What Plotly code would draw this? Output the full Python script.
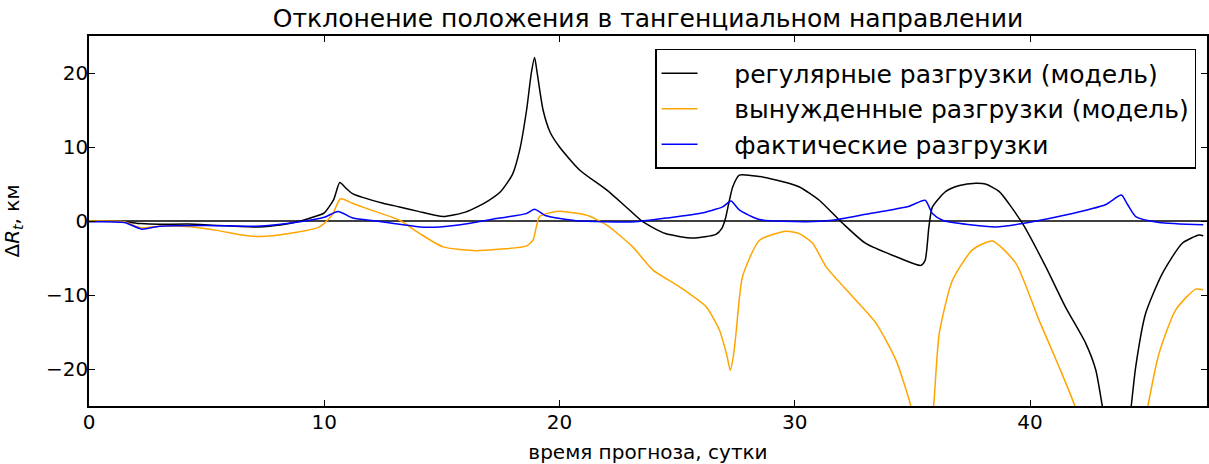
import plotly.graph_objects as go

# --- data ---
reg_x = [0, 1, 1.5, 2.2, 3, 4.2, 5.5, 7.2, 8.2, 9, 9.6, 10.0, 10.4, 10.66, 10.9, 11.2, 12.5, 13.2, 14, 15.05,
         16.0, 16.5, 17.0, 17.5, 18.0, 18.3, 18.6, 18.8, 18.94, 19.05, 19.3, 19.6, 20, 20.85, 22, 22.83, 23.54,
         24.5, 25.66, 26.65, 26.9, 27.05, 27.2, 27.36, 27.64, 28.5, 29.5, 30.2, 31.04, 32.03, 33.0, 34.44, 35.36,
         35.54, 35.7, 35.85, 36.42, 37.0, 37.7, 38.1, 38.68, 39.67, 40.67, 41.5, 42.36, 42.79, 43.07, 43.3,
         44.15, 44.3, 44.49, 44.91, 45.62, 46.47, 47.18, 47.36]
reg_y = [0, -0.05, -0.1, -0.35, -0.45, -0.4, -0.6, -0.8, -0.5, 0, 0.6, 1.1, 2.9, 5.2, 4.5, 3.7, 2.4, 1.9, 1.3, 0.6,
         1.2, 1.9, 2.8, 4.0, 6.3, 9.5, 15, 20, 22.1, 20, 15, 12, 10, 6.9, 4.2, 1.9, -0.1,
         -1.7, -2.3, -1.8, -1.0, 0.3, 2.5, 4.6, 6.2, 6.0, 5.3, 4.6, 2.8, -0.3, -3.0, -5.0, -6.0,
         -5.3, -0.8, 1.9, 4.0, 4.8, 5.1, 5.0, 4.0, -0.3, -6.2, -11.6, -16.5, -20.1, -25, -29,
         -29, -25, -19.7, -12.5, -7.1, -3.0, -1.9, -2.0]

frc_x = [0, 1.5, 2.17, 3, 4.43, 5.5, 6.5, 7.26, 8.5, 9.8, 10.1, 10.37, 10.69, 11.2, 11.79, 13.2, 14.06, 15.05,
         16.32, 17.5, 18.58, 18.87, 19.0, 19.15, 19.86, 21.13, 21.98, 23.11, 23.96, 25.1, 26.23, 26.79, 27.1,
         27.26, 27.4, 27.5, 27.78, 28.5, 29.63, 30.19, 30.76, 31.33, 32.45, 33.45, 34.3, 34.93, 35.2, 35.7,
         35.9, 36.14, 36.7, 37.55, 38.4, 39.39, 40.38, 41.23, 41.9, 42.2, 44.8, 45.01, 45.48, 46.19, 47.04, 47.36]
frc_y = [0, -0.1, -0.9, -0.7, -0.8, -1.3, -1.9, -2.1, -1.7, -0.8, 0, 1.0, 3.0, 2.4, 1.7, 0.1, -1.7, -3.5,
         -4.0, -3.8, -3.4, -2.6, -1.0, 0.6, 1.3, 0.8, -0.5, -3.5, -6.6, -8.9, -11.6, -14.7, -18,
         -20.2, -18, -15.2, -7.5, -2.6, -1.4, -1.7, -3.0, -6.2, -10.2, -13.8, -18.8, -25, -30, -30,
         -25, -15.2, -8, -3.9, -2.7, -5.7, -13.4, -19.7, -25, -29, -29, -25, -17.9, -12, -9.2, -9.3]

act_x = [0, 1.5, 2.24, 3, 5, 7.12, 8.96, 10.0, 10.59, 11.22, 12.2, 14.06, 14.9, 16.2, 17.45, 18.58, 18.94, 19.43,
         20.7, 23.2, 24.53, 25.94, 26.93, 27.29, 27.64, 28.5, 30.5, 31.6, 33.0, 34.86, 35.54, 35.85, 36.28,
         38.54, 40.1, 41.5, 43.2, 43.88, 44.13, 44.49, 45.48, 47.36]
act_y = [-0.1, -0.2, -1.1, -0.7, -0.6, -0.7, -0.1, 0.5, 1.3, 0.4, 0, -0.8, -0.8, -0.3, 0.4, 1.0, 1.6, 0.7,
         0.05, -0.1, 0.4, 1.0, 1.9, 2.7, 1.5, 0.2, -0.1, 0.1, 0.9, 2.0, 2.8, 1.0, 0.1,
         -0.8, -0.1, 0.8, 2.2, 3.5, 2.3, 0.6, -0.2, -0.5]

names = ["регулярные разгрузки (модель)", "вынужденные разгрузки (модель)", "фактические разгрузки"]
x_ticks = [0, 10, 20, 30, 40]
y_ticks = [-20, -10, 0, 10, 20]

FONT = "DejaVu Sans"
PAD = "\u00a0" * 4

fig = go.Figure()
series = [(reg_x, reg_y, "#000000"), (frc_x, frc_y, "#FFA500"), (act_x, act_y, "#0000FF")]
for i, ((xs, ys, col), nm) in enumerate(zip(series, names)):
    fig.add_trace(go.Scatter(x=xs, y=ys, mode="lines", name=PAD + nm, legendgroup=f"g{i}",
                             line=dict(color=col, width=1.5, shape="spline", smoothing=0.6)))

fig.add_shape(type="line", xref="paper", yref="y", x0=0, x1=1, y0=0, y1=0,
              line=dict(color="black", width=1.5), layer="below")

axis_common = dict(showgrid=False, zeroline=False, showline=True, linecolor="black", linewidth=1.5,
                   mirror="allticks", ticks="inside", ticklen=6, tickcolor="black", tickwidth=1,
                   automargin=False,
                   tickfont=dict(family=FONT, size=20, color="black"))

fig.update_layout(
    width=1209, height=464,
    margin=dict(l=89, r=2, t=36, b=58),
    paper_bgcolor="white", plot_bgcolor="white",
    title=dict(text="Отклонение положения в тангенциальном направлении", x=0.5, xref="paper",
               xanchor="center", y=0.961, yref="container", yanchor="middle",
               font=dict(family=FONT, size=25, color="black")),
    xaxis=dict(range=[0, 47.52], tickvals=x_ticks, ticklabelstandoff=-3,
               title=dict(text="время прогноза, сутки", font=dict(family=FONT, size=20, color="black"),
                          standoff=12),
               **axis_common),
    yaxis=dict(range=[-25, 25], tickvals=y_ticks, ticktext=[str(v).replace("-", "−") for v in y_ticks],
               ticklabelstandoff=-5,
               title=dict(text="Δ<i>R</i><sub><i>t</i></sub>, км", font=dict(family=FONT, size=20, color="black"),
                          standoff=22),
               **axis_common),
    legend=dict(x=0.5063, y=0.965, xanchor="left", yanchor="top", bgcolor="white",
                bordercolor="black", borderwidth=1.5, traceorder="grouped", tracegroupgap=0,
                itemwidth=36, font=dict(family=FONT, size=25, color="black")),
    showlegend=True,
)

fig.write_html("out.html", config={"displayModeBar": False},
               post_script="document.body.style.margin='0';document.body.style.padding='0';")
